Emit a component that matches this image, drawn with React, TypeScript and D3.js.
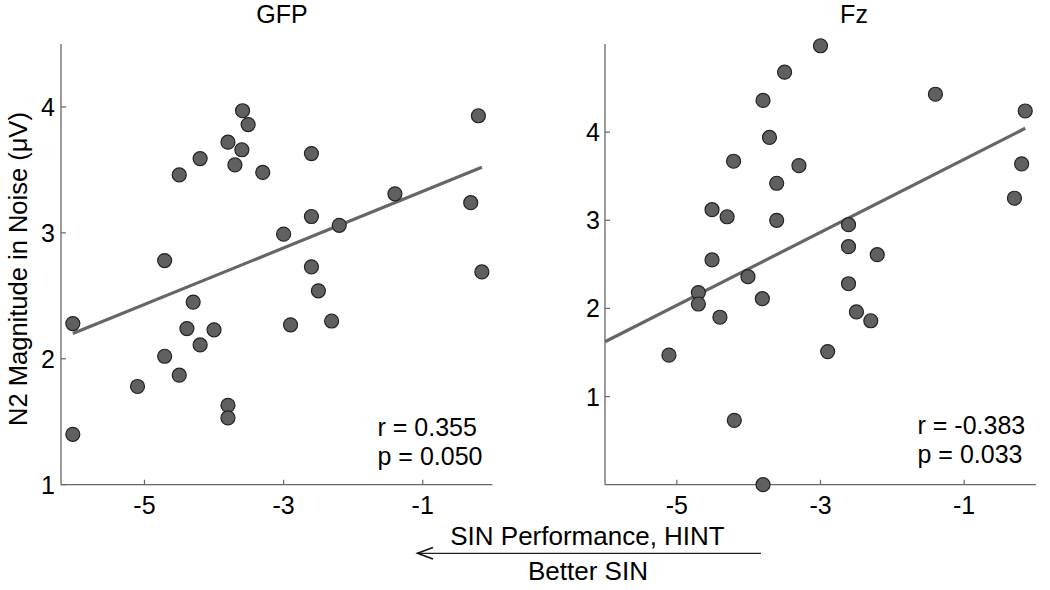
import React from "react";
import * as d3 from "d3";

// ---------- data ----------
const gfpX = [-3.59, -3.51, -3.80, -3.60, -4.20, -3.70, -4.50, -3.30, -2.60, -0.20, -1.40, -0.31, -2.60, -2.20, -3.00, -4.71, -2.60, -0.15, -2.50, -4.30, -6.03, -4.39, -4.00, -2.90, -2.31, -4.20, -4.71, -4.50, -5.10, -3.80, -3.80, -6.03];
const gfpY = [3.97, 3.86, 3.72, 3.66, 3.59, 3.54, 3.46, 3.48, 3.63, 3.93, 3.31, 3.24, 3.13, 3.06, 2.99, 2.78, 2.73, 2.69, 2.54, 2.45, 2.28, 2.24, 2.23, 2.27, 2.30, 2.11, 2.02, 1.87, 1.78, 1.63, 1.53, 1.40];

const fzX = [-3.00, -3.50, -3.80, -1.40, -0.15, -3.71, -4.21, -3.30, -0.20, -3.61, -0.30, -4.51, -4.30, -3.61, -2.61, -2.61, -2.21, -4.51, -4.01, -2.61, -4.70, -4.70, -3.81, -4.40, -2.50, -2.30, -5.11, -2.90, -4.20, -3.80];
const fzY = [4.98, 4.68, 4.36, 4.43, 4.24, 3.94, 3.67, 3.62, 3.64, 3.42, 3.25, 3.12, 3.04, 3.00, 2.95, 2.70, 2.61, 2.55, 2.36, 2.28, 2.18, 2.05, 2.11, 1.90, 1.96, 1.86, 1.47, 1.51, 0.73, 0.00];

// fit lines: [slope, intercept], x extent
const gfpFit = [0.2245, 3.554];
const gfpFitX = [-6.03, -0.15];
const fzFit = [0.414, 4.106];
const fzFitX = [-6.0, -0.15];

const xTicks = [-5, -3, -1];
const yTicks = [1, 2, 3, 4];

const titles = ["GFP", "Fz"];
const stats = [["r = 0.355", "p = 0.050"], ["r = -0.383", "p = 0.033"]];
const yLabel = "N2 Magnitude in Noise (\u03bcV)";
const xLabelTop = "SIN Performance, HINT";
const xLabelBottom = "Better SIN";

const FONT = "'Liberation Sans', Arial, Helvetica, sans-serif";
const AXIS = "#666";
const TXT = "#000";

type PanelProps = {
  xs: number[]; ys: number[];
  xDomain: [number, number]; yDomain: [number, number];
  left: number; right: number; top: number; bottom: number;
  fit: number[]; fitX: number[];
  title: string; stat: string[]; titleX: number; statX: number; statY: number;
  labelGap: number;
};

function Panel(p: PanelProps) {
  const x = d3.scaleLinear().domain(p.xDomain).range([p.left, p.right]);
  const y = d3.scaleLinear().domain(p.yDomain).range([p.bottom, p.top]);
  const fitLine = d3.line<number>().x((d) => x(d)).y((d) => y(p.fit[0] * d + p.fit[1]));
  const tl = 5;
  return (
    <g>
      <text x={p.titleX} y={23} textAnchor="middle" fontSize={25} fontFamily={FONT} fill={TXT}>{p.title}</text>
      <line x1={p.left} y1={p.top} x2={p.left} y2={p.bottom} stroke={AXIS} strokeWidth={1.3} />
      <line x1={p.left} y1={p.bottom} x2={p.right} y2={p.bottom} stroke={AXIS} strokeWidth={1.3} />
      {yTicks.map((t) => (
        <g key={"y" + t}>
          <line x1={p.left} x2={p.left + tl} y1={y(t)} y2={y(t)} stroke={AXIS} strokeWidth={1.2} />
          <text x={p.left - p.labelGap} y={y(t)} dy="0.36em" textAnchor="end" fontSize={25} fontFamily={FONT} fill={TXT}>{t}</text>
        </g>
      ))}
      {xTicks.map((t) => (
        <g key={"x" + t}>
          <line x1={x(t)} x2={x(t)} y1={p.bottom} y2={p.bottom - tl} stroke={AXIS} strokeWidth={1.2} />
          <text x={x(t)} y={p.bottom + 29} textAnchor="middle" fontSize={25} fontFamily={FONT} fill={TXT}>{t}</text>
        </g>
      ))}
      <path d={fitLine(p.fitX) || ""} stroke="#666" strokeWidth={3.2} fill="none" />
      {p.xs.map((v, i) => (
        <circle key={i} cx={x(v)} cy={y(p.ys[i])} r={7} fill="#606060" stroke="#222" strokeWidth={1.2} />
      ))}
      <text x={p.statX} y={p.statY} fontSize={25} fontFamily={FONT} fill={TXT}>{p.stat[0]}</text>
      <text x={p.statX} y={p.statY + 29} fontSize={25} fontFamily={FONT} fill={TXT}>{p.stat[1]}</text>
    </g>
  );
}

export default function App() {
  return (
    <svg width={1050} height={590} style={{ position: "absolute", left: 0, top: 0, background: "#fff" }}>
      <rect width={1050} height={590} fill="#fff" />
      <Panel xs={gfpX} ys={gfpY} xDomain={[-6.2, 0]} yDomain={[1, 4.5]}
        left={61} right={492.3} top={44} bottom={484.7}
        fit={gfpFit} fitX={gfpFitX} title={titles[0]} stat={stats[0]}
        titleX={282} statX={377.5} statY={436} labelGap={6} />
      <Panel xs={fzX} ys={fzY} xDomain={[-6, 0]} yDomain={[0, 5]}
        left={605} right={1036} top={44} bottom={484.7}
        fit={fzFit} fitX={fzFitX} title={titles[1]} stat={stats[1]}
        titleX={854} statX={917.5} statY={433.5} labelGap={5} />
      <text transform="translate(27,269) rotate(-90)" textAnchor="middle" fontSize={25.5} fontFamily={FONT} fill={TXT}>{yLabel}</text>
      <text x={587.5} y={545} textAnchor="middle" fontSize={26} fontFamily={FONT} fill={TXT}>{xLabelTop}</text>
      <line x1={417} y1={553.3} x2={761} y2={553.3} stroke="#222" strokeWidth={1.3} />
      <path d="M433,547.5 L417.5,553.3 L433,559.1" fill="none" stroke="#111" strokeWidth={1.6} />
      <text x={588} y={580} textAnchor="middle" fontSize={26} fontFamily={FONT} fill={TXT}>{xLabelBottom}</text>
    </svg>
  );
}
